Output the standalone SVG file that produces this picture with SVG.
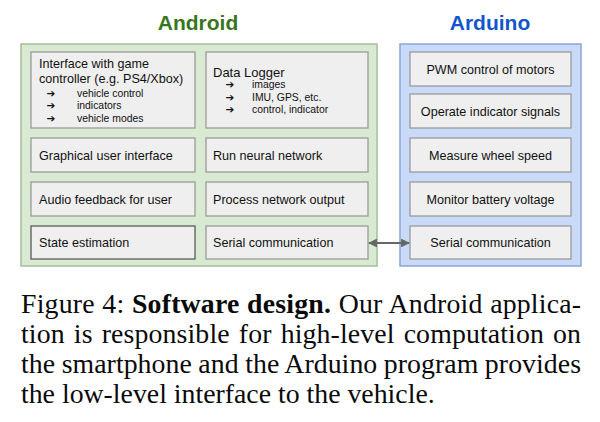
<svg xmlns="http://www.w3.org/2000/svg" width="600" height="422" viewBox="0 0 600 422">
<defs>
<marker id="ah" viewBox="0 0 10 10" refX="9" refY="5" markerWidth="4" markerHeight="4" orient="auto-start-reverse" markerUnits="strokeWidth">
<path d="M0,0 L10,5 L0,10 z" fill="#666666"/>
</marker>
<style>
.title{font-family:"Liberation Sans",Arial,sans-serif;font-weight:bold;font-size:21px;text-anchor:middle}
.cont-a{fill:#d9ead3;stroke:#a5bd9c;stroke-width:1.5}
.cont-b{fill:#c9daf8;stroke:#8ba5d6;stroke-width:1.5}
.node{fill:#efefef;stroke:#9a9a9a;stroke-width:1.3}
.dark{stroke:#5a5a5a}
.t{font-family:"Liberation Sans",Arial,sans-serif;font-size:12.6px;fill:#111}
.c{text-anchor:middle}
.s{font-family:"Liberation Sans",Arial,sans-serif;font-size:10.4px;fill:#111}
.ar{font-family:"DejaVu Sans",sans-serif;font-size:10.5px;font-weight:bold;fill:#111;text-anchor:middle}
.cap{font-family:"Liberation Serif","Times New Roman",serif;font-size:27.8px;fill:#0a0a0a}
</style>
</defs>
<text class="title" x="198" y="30" fill="#38761d">Android</text>
<text class="title" x="490" y="30" fill="#1155cc">Arduino</text>
<rect class="cont-a" x="21" y="44" width="356" height="222"/>
<rect class="cont-b" x="400" y="44" width="181" height="222"/>
<g id="n-interface">
<rect class="node" x="31" y="52" width="164" height="76"/>
<text class="t" x="39" y="68">Interface with game</text>
<text class="t" x="39" y="83">controller (e.g. PS4/Xbox)</text>
<text class="ar" x="51" y="96.5">➔</text><text class="s" x="77" y="96.5">vehicle control</text>
<text class="ar" x="51" y="109">➔</text><text class="s" x="77" y="109">indicators</text>
<text class="ar" x="51" y="121.5">➔</text><text class="s" x="77" y="121.5">vehicle modes</text>
</g>
<g id="n-logger">
<rect class="node" x="206" y="52" width="162" height="76"/>
<text class="t" x="213" y="76.5" style="font-size:13px">Data Logger</text>
<text class="ar" x="230" y="88">➔</text><text class="s" x="252" y="88">images</text>
<text class="ar" x="230" y="100.5">➔</text><text class="s" x="252" y="100.5">IMU, GPS, etc.</text>
<text class="ar" x="230" y="113">➔</text><text class="s" x="252" y="113">control, indicator</text>
</g>
<g id="n-gui"><rect class="node" x="31" y="138" width="164" height="34"/><text class="t" x="39" y="159.5">Graphical user interface</text></g>
<g id="n-nn"><rect class="node" x="206" y="138" width="162" height="34"/><text class="t" x="213" y="159.5">Run neural network</text></g>
<g id="n-audio"><rect class="node" x="31" y="182" width="164" height="34"/><text class="t" x="39" y="203.5">Audio feedback for user</text></g>
<g id="n-process"><rect class="node" x="206" y="182" width="162" height="34"/><text class="t" x="213" y="203.5">Process network output</text></g>
<g id="n-state"><rect class="node dark" x="31" y="226" width="164" height="33"/><text class="t" x="39" y="247">State estimation</text></g>
<g id="n-serial-a"><rect class="node" x="206" y="226" width="162" height="33"/><text class="t" x="213" y="247">Serial communication</text></g>
<g id="n-pwm"><rect class="node" x="410" y="52" width="161" height="34"/><text class="t c" x="490.5" y="73.5">PWM control of motors</text></g>
<g id="n-indicator"><rect class="node" x="410" y="94" width="161" height="34"/><text class="t c" x="490.5" y="115.5">Operate indicator signals</text></g>
<g id="n-wheel"><rect class="node" x="410" y="138" width="161" height="34"/><text class="t c" x="490.5" y="159.5">Measure wheel speed</text></g>
<g id="n-battery"><rect class="node" x="410" y="182" width="161" height="34"/><text class="t c" x="490.5" y="203.5">Monitor battery voltage</text></g>
<g id="n-serial-b"><rect class="node" x="410" y="226" width="161" height="33"/><text class="t c" x="490.5" y="247">Serial communication</text></g>
<g id="connectors">
<line x1="369" y1="243" x2="409" y2="243" stroke="#666666" stroke-width="2.2" marker-start="url(#ah)" marker-end="url(#ah)"/>
</g>
<g id="caption">
<text class="cap" x="21" y="313" word-spacing="0.5" textLength="560" lengthAdjust="spacing">Figure 4: <tspan font-weight="bold">Software design.</tspan> Our Android applica-</text>
<text class="cap" x="21" y="343" word-spacing="2" textLength="560" lengthAdjust="spacing">tion is responsible for high-level computation on</text>
<text class="cap" x="21" y="373" word-spacing="-0.5" textLength="560" lengthAdjust="spacing">the smartphone and the Arduino program provides</text>
<text class="cap" x="21" y="403">the low-level interface to the vehicle.</text>
</g>
</svg>
